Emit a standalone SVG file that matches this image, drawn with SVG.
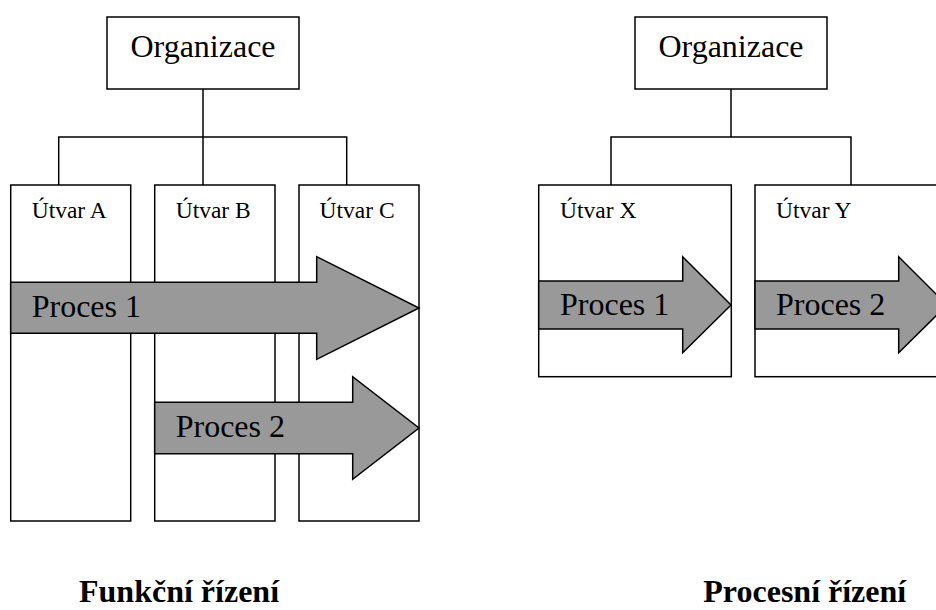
<svg xmlns="http://www.w3.org/2000/svg" width="936" height="610" viewBox="0 0 936 610">
<style>
.box{fill:#fff;stroke:#000;stroke-width:1.5}
.arr{fill:#999;stroke:#000;stroke-width:1.5;stroke-linejoin:miter}
.ln{fill:none;stroke:#000;stroke-width:1.5}
.t{font-family:"Liberation Serif","Times New Roman",serif;fill:#000}
.s{font-size:23.5px}
.m{font-size:32px}
.b{font-size:32px;font-weight:bold}
</style>
<rect width="936" height="610" fill="#fff"/>
<g id="connectors">
<path class="ln" d="M203,89 V185 M58.7,185 V137 H346.7 V185"/>
<path class="ln" d="M731,89 V137 M611,185 V137 H851 V185"/>
</g>
<g id="org-left"><rect class="box" x="107" y="17" width="192" height="72"/><text class="t m" x="203" y="57" text-anchor="middle">Organizace</text></g>
<g id="utvar-a"><rect class="box" x="10.7" y="185" width="120" height="336"/><text class="t s" x="31.7" y="218">Útvar A</text></g>
<g id="utvar-b"><rect class="box" x="154.7" y="185" width="120.3" height="336"/><text class="t s" x="175.7" y="218">Útvar B</text></g>
<g id="utvar-c"><rect class="box" x="299" y="185" width="120" height="336"/><text class="t s" x="319.5" y="218">Útvar C</text></g>
<g id="proces1-left"><path class="arr" d="M10.7,282.3 H316.7 V256.7 L419,308 L316.7,359.3 V333.3 H10.7 Z"/><text class="t m" x="31.7" y="317">Proces 1</text></g>
<g id="proces2-left"><path class="arr" d="M154.7,402.3 H352.7 V376.7 L419,428 L352.7,479.3 V453.7 H154.7 Z"/><text class="t m" x="175.7" y="437">Proces 2</text></g>
<g id="org-right"><rect class="box" x="635" y="17" width="192" height="72"/><text class="t m" x="731" y="57" text-anchor="middle">Organizace</text></g>
<g id="utvar-x"><rect class="box" x="538.7" y="185" width="192.6" height="191.7"/><text class="t s" x="560" y="218">Útvar X</text></g>
<g id="utvar-y"><rect class="box" x="755" y="185" width="192.6" height="191.7"/><text class="t s" x="776" y="218">Útvar Y</text></g>
<g id="proces1-right"><path class="arr" d="M538.7,281 H682.7 V256.7 L731,305 L682.7,352.7 V329 H538.7 Z"/><text class="t m" x="560" y="315">Proces 1</text></g>
<g id="proces2-right"><path class="arr" d="M755,281 H898.7 V256.7 L947,305 L898.7,352.7 V329 H755 Z"/><text class="t m" x="776" y="315">Proces 2</text></g>
<g id="caption-left"><text class="t b" x="79" y="602">Funkční řízení</text></g>
<g id="caption-right"><text class="t b" x="703.3" y="602">Procesní řízení</text></g>
</svg>
